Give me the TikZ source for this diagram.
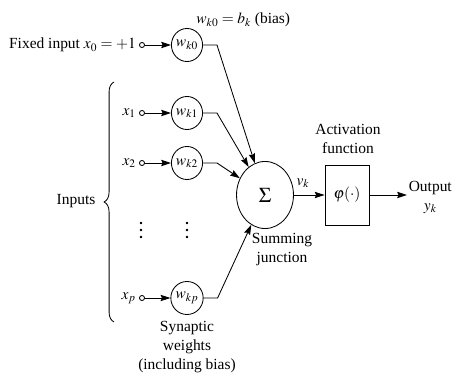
\documentclass[tikz,border=0pt]{standalone}
\usepackage{mathptmx}
\usepackage{fontspec}
\setmainfont{Liberation Serif}
\usetikzlibrary{arrows.meta}
\usetikzlibrary{shapes.geometric}
\usetikzlibrary{decorations.pathreplacing}

\begin{document}
\begin{tikzpicture}[x=0.25mm,y=-0.25mm,line width=0.6pt,
  font=\fontsize{11}{13.5}\selectfont,
  >={Stealth[length=7pt,width=4.5pt,inset=1pt]},
  weight/.style={ellipse,draw,inner sep=0pt,minimum width=20.6pt,minimum height=23.5pt},
  src/.style={circle,draw,inner sep=0pt,minimum size=3.6pt},
  junction/.style={ellipse,draw,inner sep=0pt,minimum width=40.5pt,minimum height=47.7pt},
  actbox/.style={rectangle,draw,minimum width=31.3pt,minimum height=42.7pt}]
\useasboundingbox (0,0) rectangle (452,374);
\draw (265,195) node (sum) [junction] {\fontsize{15}{15}\selectfont$\Sigma$};
\draw (347,195) node (act) [actbox] {$\varphi(\cdot)$};
\draw (142,45) node (x0) [src] {};
\draw (187,45) node (w0) [weight] {$w_{k0}$};
\draw (142,113) node (x1) [src] {};
\draw (187,113) node (w1) [weight] {$w_{k1}$};
\draw (142,163) node (x2) [src] {};
\draw (187,163) node (w2) [weight] {$w_{k2}$};
\draw (142,298) node (xp) [src] {};
\draw (187,298) node (wp) [weight] {$w_{kp}$};
\draw (x0.west) node (lab0) [anchor=east,inner sep=2pt] {Fixed input $x_0=+1$};
\draw (x1.west) node (lab1) [anchor=east,inner sep=2pt] {$x_1$};
\draw (x2.west) node (lab2) [anchor=east,inner sep=2pt] {$x_2$};
\draw (xp.west) node (labp) [anchor=east,inner sep=2pt] {$x_p$};
\filldraw (141,223) circle [radius=0.2mm];
\filldraw (141,230) circle [radius=0.2mm];
\filldraw (141,237) circle [radius=0.2mm];
\filldraw (187,223) circle [radius=0.2mm];
\filldraw (187,230) circle [radius=0.2mm];
\filldraw (187,237) circle [radius=0.2mm];
\draw (196,20) node (bias) [anchor=west,inner sep=0pt] {$w_{k0}=b_k$ (bias)};
\draw (76,201) node (inputs) {Inputs};
\draw (187,347) node (syn) [align=center] {Synaptic\\weights\\(including bias)};
\draw (282,250) node (sumlab) [align=center] {Summing\\junction};
\draw (348,139) node (actlab) [align=center] {Activation\\function};
\draw (303,183) node (vk) {$v_k$};
\draw (407,197) node (out) [anchor=west,align=center,inner sep=1pt] {Output\\$y_k$};
\draw [decorate,decoration={brace,amplitude=7pt}] (114,322) -- (114,82);
\draw [->] (x0) -- (w0);
\draw [->] (x1) -- (w1);
\draw [->] (x2) -- (w2);
\draw [->] (xp) -- (wp);
\draw [->] (w0.east) -- ++(14,0) -- (sum);
\draw [->] (w1.east) -- ++(14,0) -- (sum);
\draw [->] (w2.east) -- ++(14,0) -- (sum);
\draw [->] (wp.east) -- ++(14,0) -- (sum);
\draw [->] (sum) -- (act);
\draw [->] (act) -- (act -| out.west);
\end{tikzpicture}
\end{document}
